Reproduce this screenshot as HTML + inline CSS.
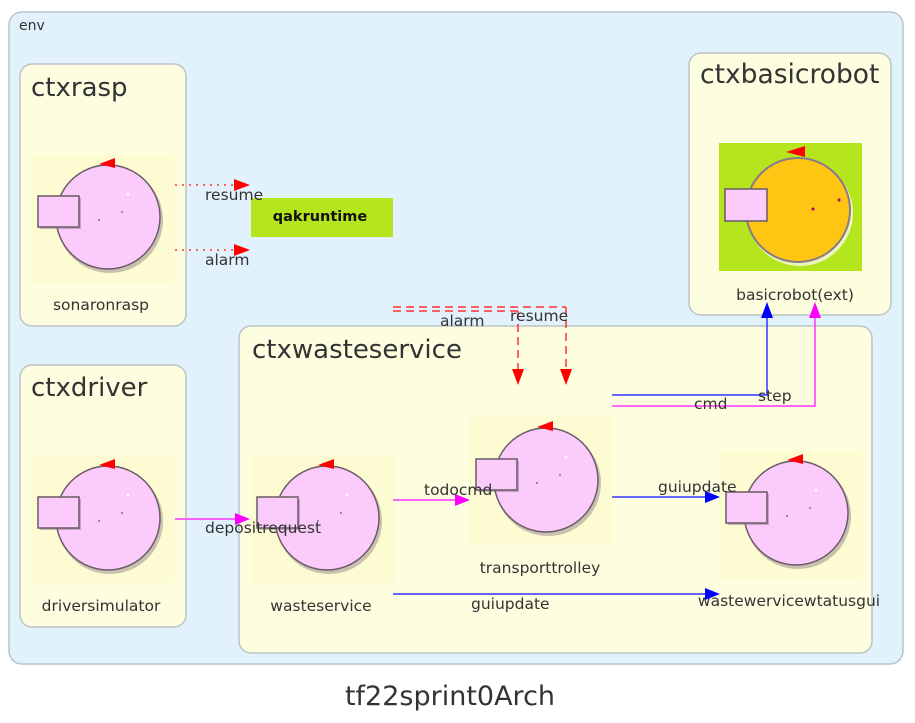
<!DOCTYPE html>
<html><head><meta charset="utf-8"><style>
html,body{margin:0;padding:0;background:#fff;width:915px;height:723px;overflow:hidden}
text{font-family:"DejaVu Sans","Liberation Sans",sans-serif;fill:#333}
</style></head><body>
<svg width="915" height="723" viewBox="0 0 915 723" xmlns="http://www.w3.org/2000/svg">
<defs>
<g id="actor">
  <rect x="0" y="0" width="143" height="128" fill="#fdfbd2"/>
  <circle cx="78" cy="66" r="53" fill="#8a7a86" opacity="0.45"/>
  <circle cx="76" cy="63" r="52" fill="#fbcbfb" stroke="#6a5a66" stroke-width="1.5"/>
  <circle cx="96" cy="40" r="1.5" fill="#fff"/>
  <circle cx="90" cy="58" r="1" fill="#777"/>
  <circle cx="67" cy="66" r="1" fill="#777"/>
  <rect x="8" y="44" width="41" height="31" fill="#8a7a86" opacity="0.5"/>
  <rect x="6" y="42" width="41" height="31" fill="#fbcbfb" stroke="#6a5a66" stroke-width="1.5"/>
  <polygon points="67,10 83,4 83,14" fill="#f00"/>
</g>
</defs>
<rect x="9" y="12" width="894" height="652" rx="13" fill="#e1f2fc" stroke="#b8c4cc" stroke-width="1.5"/>
<text x="19" y="30" font-size="14">env</text>

<rect x="20" y="64" width="166" height="262" rx="12" fill="#fdfde0" stroke="#bcc4c4" stroke-width="1.5"/>
<text x="31" y="96" font-size="26">ctxrasp</text>
<rect x="20" y="365" width="166" height="262" rx="12" fill="#fdfde0" stroke="#bcc4c4" stroke-width="1.5"/>
<text x="31" y="396" font-size="26">ctxdriver</text>
<rect x="689" y="53" width="202" height="262" rx="12" fill="#fdfde0" stroke="#bcc4c4" stroke-width="1.5"/>
<text x="700" y="83" font-size="26.5">ctxbasicrobot</text>
<rect x="239" y="326" width="633" height="327" rx="12" fill="#fdfde0" stroke="#bcc4c4" stroke-width="1.5"/>
<text x="252" y="358" font-size="26">ctxwasteservice</text>

<use href="#actor" x="32" y="154"/>
<use href="#actor" x="32" y="455"/>
<use href="#actor" x="251" y="455"/>
<use href="#actor" x="470" y="417"/>
<use href="#actor" x="720" y="450"/>

<!-- basicrobot -->
<rect x="719" y="143" width="143" height="128" fill="#b5e51d"/>
<circle cx="800" cy="213" r="53" fill="#fff" opacity="0.7"/>
<circle cx="798" cy="210" r="52" fill="#ffc513" stroke="#8a7a86" stroke-width="2"/>
<circle cx="813" cy="209" r="1.5" fill="#a08"/>
<circle cx="839" cy="200" r="1.5" fill="#a08"/>
<rect x="725" y="189" width="42" height="32" fill="#fbcbfb" stroke="#6a5a66" stroke-width="1.5"/>
<polygon points="786,152 805,146 805,157" fill="#f00"/>

<g font-size="15.5">
<text x="101" y="310" text-anchor="middle">sonaronrasp</text>
<text x="101" y="611" text-anchor="middle">driversimulator</text>
<text x="321" y="611" text-anchor="middle">wasteservice</text>
<text x="540" y="573" text-anchor="middle">transporttrolley</text>
<text x="789" y="606" text-anchor="middle">wastewervicewtatusgui</text>
<text x="795" y="300" text-anchor="middle">basicrobot(ext)</text>
</g>

<rect x="251" y="198" width="142" height="39" fill="#b5e51d"/>
<text x="320" y="221" font-size="14.5" font-weight="bold" text-anchor="middle" style="fill:#111">qakruntime</text>

<!-- dotted red -->
<line x1="175" y1="185" x2="238" y2="185" stroke="#f33" stroke-width="1.5" stroke-dasharray="2,5"/>
<polygon points="234,179 250,185 234,191" fill="#f00"/>
<line x1="175" y1="250" x2="238" y2="250" stroke="#f33" stroke-width="1.5" stroke-dasharray="2,5"/>
<polygon points="234,244 250,250 234,256" fill="#f00"/>

<!-- dashed red -->
<line x1="393" y1="307" x2="566" y2="307" stroke="#f33" stroke-width="1.5" stroke-dasharray="8,5"/>
<line x1="393" y1="311" x2="518" y2="311" stroke="#f33" stroke-width="1.5" stroke-dasharray="8,5"/>
<line x1="518" y1="311" x2="518" y2="372" stroke="#f33" stroke-width="1.5" stroke-dasharray="8,5"/>
<line x1="566" y1="307" x2="566" y2="372" stroke="#f33" stroke-width="1.5" stroke-dasharray="8,5"/>
<polygon points="512,369 518,385 524,369" fill="#f00"/>
<polygon points="560,369 566,385 572,369" fill="#f00"/>

<!-- cmd / step -->
<polyline points="612,395 767,395 767,316" fill="none" stroke="#33f" stroke-width="1.5"/>
<polygon points="761,318 767,302 773,318" fill="#00f"/>
<polyline points="612,406 815,406 815,316" fill="none" stroke="#f3f" stroke-width="1.5"/>
<polygon points="809,318 815,302 821,318" fill="#f0f"/>

<!-- todocmd -->
<line x1="393" y1="500" x2="458" y2="500" stroke="#f3f" stroke-width="1.5"/>
<polygon points="455,494 470,500 455,506" fill="#f0f"/>
<!-- depositrequest -->
<line x1="175" y1="519" x2="238" y2="519" stroke="#f3f" stroke-width="1.5"/>
<polygon points="235,513 250,519 235,525" fill="#f0f"/>
<!-- guiupdate -->
<line x1="612" y1="497" x2="708" y2="497" stroke="#33f" stroke-width="1.5"/>
<polygon points="705,491 720,497 705,503" fill="#00f"/>
<line x1="393" y1="594" x2="708" y2="594" stroke="#33f" stroke-width="1.5"/>
<polygon points="705,588 720,594 705,600" fill="#00f"/>

<g font-size="15.5">
<text x="205" y="200">resume</text>
<text x="205" y="265">alarm</text>
<text x="440" y="326">alarm</text>
<text x="510" y="321">resume</text>
<text x="694" y="409">cmd</text>
<text x="758" y="401">step</text>
<text x="424" y="495">todocmd</text>
<text x="205" y="533">depositrequest</text>
<text x="658" y="492">guiupdate</text>
<text x="471" y="609">guiupdate</text>
</g>

<text x="450" y="705" font-size="27" text-anchor="middle">tf22sprint0Arch</text>
</svg>
</body></html>
